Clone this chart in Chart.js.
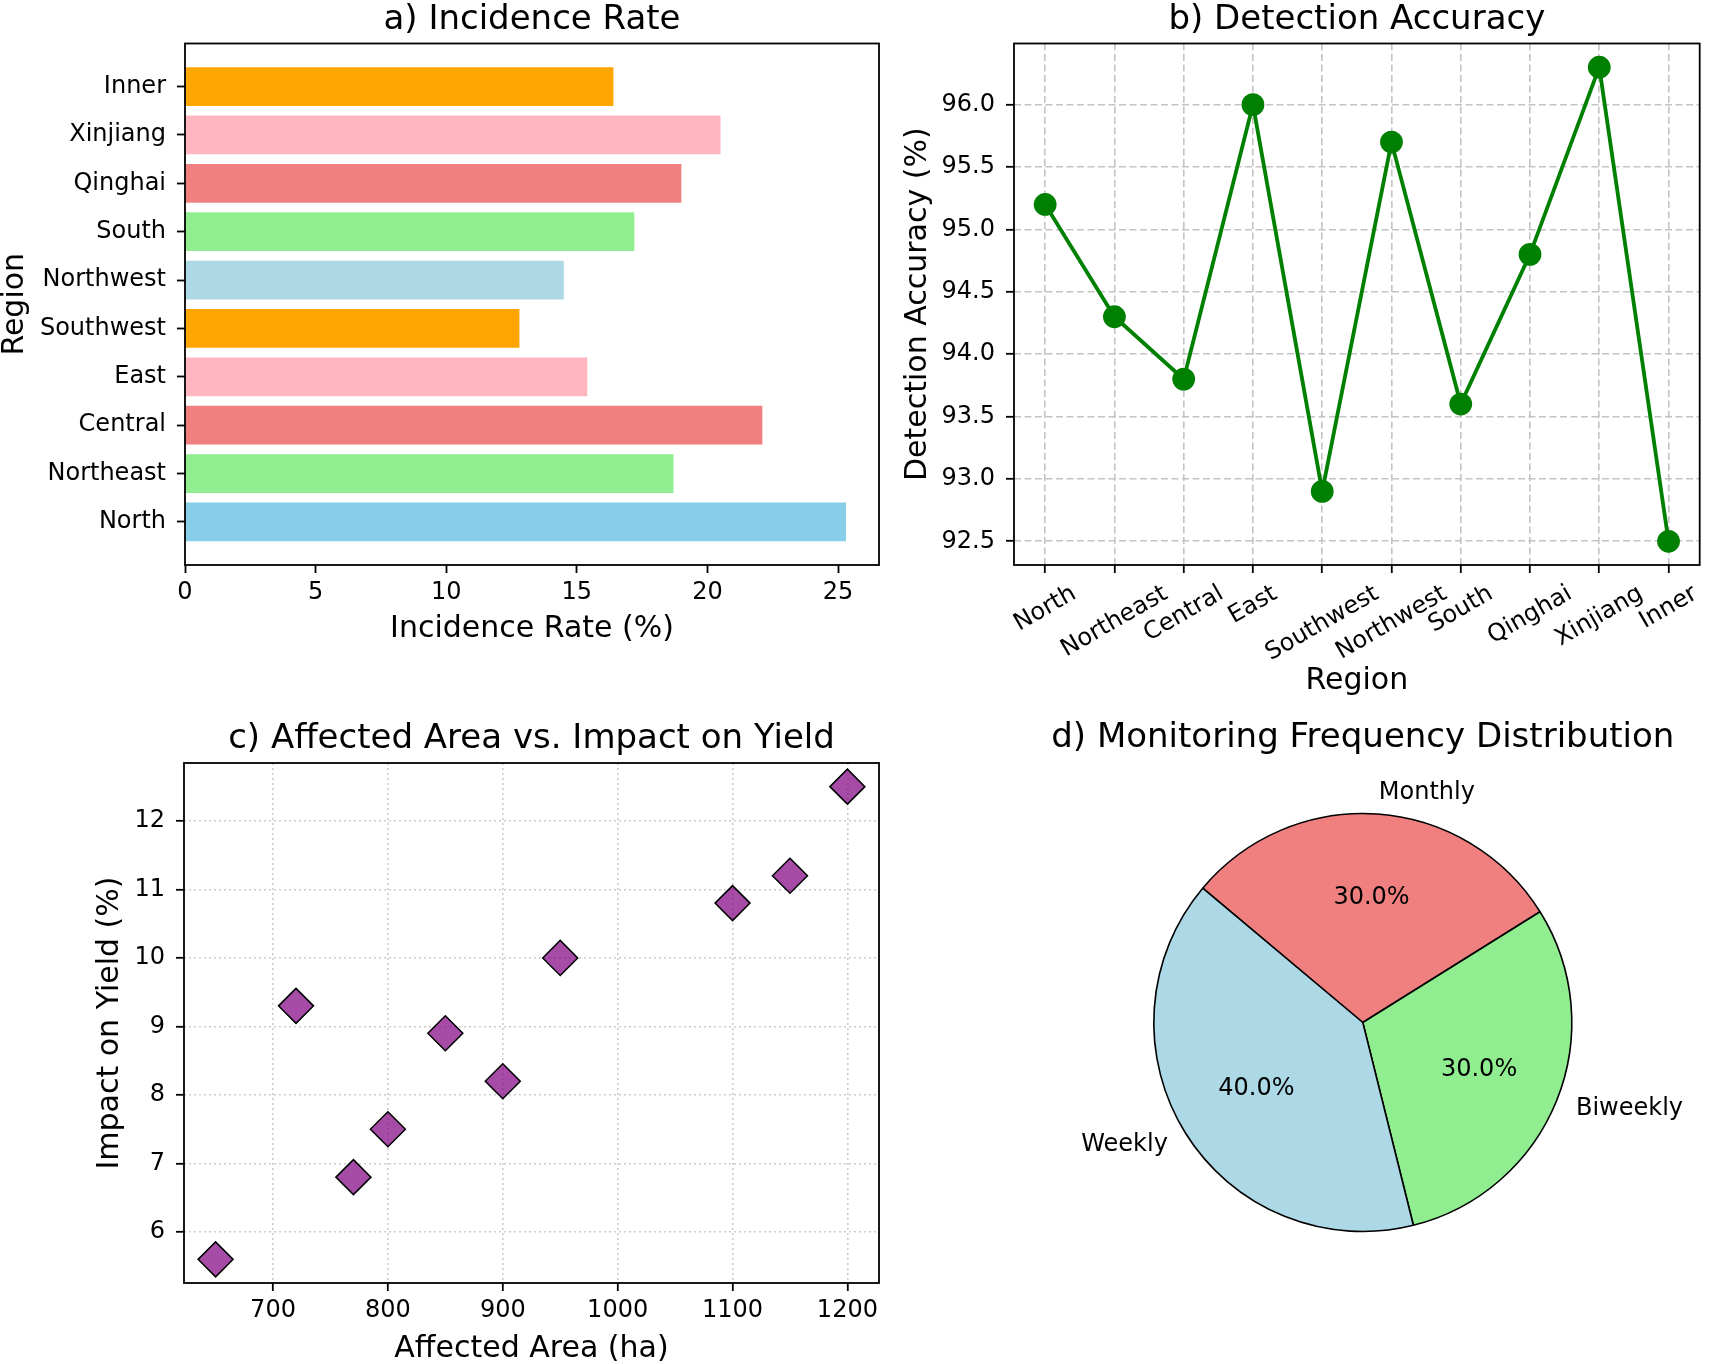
<!DOCTYPE html>
<html>
<head>
<meta charset="utf-8">
<title>Pest monitoring overview</title>
<script src="https://cdn.jsdelivr.net/npm/chart.js@4.4.0/dist/chart.umd.min.js"></script>
<style>
  html, body { margin: 0; padding: 0; background: #fff; }
  body { width: 1713px; height: 1364px; position: relative; overflow: hidden; }
  canvas { position: absolute; }
</style>
</head>
<body>
<canvas id="incidenceChart" width="900" height="660" style="left:0;top:0;width:900px;height:660px"></canvas>
<canvas id="accuracyChart" width="833" height="700" style="left:880px;top:0;width:833px;height:700px"></canvas>
<canvas id="areaChart" width="900" height="674" style="left:0;top:690px;width:900px;height:674px"></canvas>
<canvas id="frequencyChart" width="813" height="674" style="left:900px;top:690px;width:813px;height:674px"></canvas>
<script>
// --- data ---
const regions = ['North', 'Northeast', 'Central', 'East', 'Southwest', 'Northwest', 'South', 'Qinghai', 'Xinjiang', 'Inner'];
const incidenceRates = [25.3, 18.7, 22.1, 15.4, 12.8, 14.5, 17.2, 19.0, 20.5, 16.4];
const barColors = ['skyblue', 'lightgreen', 'lightcoral', 'lightpink', 'orange', 'lightblue', 'lightgreen', 'lightcoral', 'lightpink', 'orange'];
const rateTicks = [0, 5, 10, 15, 20, 25];

const detectionAccuracy = [95.2, 94.3, 93.8, 96.0, 92.9, 95.7, 93.6, 94.8, 96.3, 92.5];
const accuracyTicks = [92.5, 93.0, 93.5, 94.0, 94.5, 95.0, 95.5, 96.0];

const affectedArea = [650, 720, 770, 800, 850, 900, 950, 1100, 1150, 1200];
const yieldImpact = [5.6, 9.3, 6.8, 7.5, 8.9, 8.2, 10.0, 10.8, 11.2, 12.5];
const areaTicks = [700, 800, 900, 1000, 1100, 1200];
const impactTicks = [6, 7, 8, 9, 10, 11, 12];

const frequencyLabels = ['Weekly', 'Biweekly', 'Monthly'];
const frequencyShares = [40, 30, 30];
const frequencyColors = ['lightblue', 'lightgreen', 'lightcoral'];

const FONT = "'DejaVu Sans', sans-serif";
Chart.defaults.font.family = FONT;
Chart.defaults.color = '#000';

// matplotlib-like 5% margins around the data
function withMargin(lo, hi) {
    const m = (hi - lo) * 0.05;
    return [lo - m, hi + m];
}

// fixed tick positions instead of Chart.js' own choice
function fixedTicks(values) {
    return scale => { scale.ticks = values.map(v => ({ value: v })); };
}

// draws the full box around the plot area (all four spines)
const axesFrame = {
    id: 'axesFrame',
    afterDraw(chart) {
        const { ctx, chartArea: a } = chart;
        ctx.save();
        ctx.strokeStyle = '#000';
        ctx.lineWidth = 1.8;
        ctx.strokeRect(a.left, a.top, a.right - a.left, a.bottom - a.top);
        ctx.restore();
    }
};

// rotated region names centred under each tick, like matplotlib rotation=30
const slantedLabels = {
    id: 'slantedLabels',
    afterDraw(chart) {
        const { ctx, chartArea, scales } = chart;
        const angle = 30 * Math.PI / 180;
        ctx.save();
        ctx.font = '24px ' + FONT;
        ctx.fillStyle = '#000';
        ctx.textAlign = 'center';
        ctx.textBaseline = 'middle';
        regions.forEach((name, i) => {
            const x = scales.x.getPixelForValue(i);
            const w = ctx.measureText(name).width;
            const boxH = w * Math.sin(angle) + 24 * 1.164 * Math.cos(angle);
            const y = chartArea.bottom + 15 + boxH / 2;
            ctx.save();
            ctx.translate(x, y);
            ctx.rotate(-angle);
            ctx.fillText(name, 0, 0);
            ctx.restore();
        });
        ctx.restore();
    }
};

// names outside the pie, percentages inside
const pieLabels = {
    id: 'pieLabels',
    afterDatasetsDraw(chart) {
        const { ctx } = chart;
        const values = chart.data.datasets[0].data;
        const total = values.reduce((a, b) => a + b, 0);
        ctx.save();
        ctx.font = '24px ' + FONT;
        ctx.fillStyle = '#000';
        ctx.textBaseline = 'middle';
        chart.getDatasetMeta(0).data.forEach((arc, i) => {
            const p = arc.getProps(['x', 'y', 'startAngle', 'endAngle', 'outerRadius'], true);
            const mid = (p.startAngle + p.endAngle) / 2;
            const c = Math.cos(mid), s = Math.sin(mid);
            ctx.textAlign = c >= 0 ? 'left' : 'right';
            ctx.fillText(chart.data.labels[i], p.x + c * p.outerRadius * 1.1, p.y + s * p.outerRadius * 1.1);
            ctx.textAlign = 'center';
            ctx.fillText((values[i] / total * 100).toFixed(1) + '%', p.x + c * p.outerRadius * 0.6, p.y + s * p.outerRadius * 0.6);
        });
        ctx.restore();
    }
};

const tickFont = { size: 24 };
const labelFont = { size: 30, lineHeight: 1 };
const titleFont = { size: 34, weight: 'normal', lineHeight: 1 };
const tickMarks = { tickLength: 8, tickColor: '#000', tickWidth: 1.8 };

function baseOptions(title, titlePadding, padding) {
    return {
        responsive: false,
        animation: false,
        devicePixelRatio: 1,
        layout: { padding },
        plugins: {
            legend: { display: false },
            tooltip: { enabled: false },
            title: { display: true, text: title, fullSize: false, font: titleFont, color: '#000', padding: titlePadding }
        }
    };
}

// --- a) Incidence Rate ---
const incOpts = baseOptions('a) Incidence Rate', { top: 3, bottom: 6.5 }, { left: 0, right: 21, top: 0, bottom: 0 });
incOpts.indexAxis = 'y';
incOpts.scales = {
    x: {
        type: 'linear', min: 0, max: Math.max(...incidenceRates) * 1.05,
        afterBuildTicks: fixedTicks(rateTicks),
        ticks: { autoSkip: false, font: tickFont, padding: 5, callback: v => String(v) },
        grid: Object.assign({ drawOnChartArea: false }, tickMarks),
        border: { display: false },
        title: { display: true, text: 'Incidence Rate (%)', font: labelFont, padding: { top: 0, bottom: 15.5 } },
        afterFit: s => { s.height = 95; }
    },
    y: {
        type: 'linear', min: -0.4 - 0.49, max: 9.4 + 0.49,
        offset: false,
        afterBuildTicks: fixedTicks(regions.map((r, i) => i)),
        ticks: { autoSkip: false, font: tickFont, padding: 11, callback: v => regions[v] ?? '' },
        grid: Object.assign({ drawOnChartArea: false, offset: false }, tickMarks),
        border: { display: false },
        title: { display: true, text: 'Region', font: labelFont, padding: { top: 0, bottom: 0 } },
        afterFit: s => { s.width = 185; }
    }
};
new Chart(document.getElementById('incidenceChart'), {
    type: 'bar',
    data: {
        datasets: [{
            data: regions.map((r, i) => ({ x: incidenceRates[i], y: i })),
            backgroundColor: barColors,
            categoryPercentage: 1,
            barPercentage: 0.8
        }]
    },
    options: incOpts,
    plugins: [axesFrame]
});

// --- b) Detection Accuracy ---
const [accMin, accMax] = withMargin(Math.min(...detectionAccuracy), Math.max(...detectionAccuracy));
const dashedGrid = { color: '#c4c4c4', lineWidth: 1.6 };
const accOpts = baseOptions('b) Detection Accuracy', { top: 3, bottom: 6.5 }, { left: 0, right: 2, top: 0, bottom: 0 });
accOpts.scales = {
    x: {
        type: 'linear', min: -0.45, max: 9.45,
        afterBuildTicks: fixedTicks(regions.map((r, i) => i)),
        ticks: { autoSkip: false, display: false },
        grid: Object.assign({}, dashedGrid, tickMarks),
        border: { display: false, dash: [7, 3.5] },
        title: { display: true, text: 'Region', font: labelFont, padding: { top: 0, bottom: 3.5 } },
        afterFit: s => { s.height = 135; }
    },
    y: {
        type: 'linear', min: accMin, max: accMax,
        afterBuildTicks: fixedTicks(accuracyTicks),
        ticks: { autoSkip: false, font: tickFont, padding: 11, callback: v => v.toFixed(1) },
        grid: Object.assign({}, dashedGrid, tickMarks),
        border: { display: false, dash: [7, 3.5] },
        title: { display: true, text: 'Detection Accuracy (%)', font: labelFont, padding: { top: 23, bottom: 0 } },
        afterFit: s => { s.width = 134; }
    }
};
new Chart(document.getElementById('accuracyChart'), {
    type: 'line',
    data: {
        datasets: [{
            data: regions.map((r, i) => ({ x: i, y: detectionAccuracy[i] })),
            borderColor: 'green',
            borderWidth: 3.8,
            pointRadius: 9.5,
            pointBackgroundColor: 'green',
            pointBorderColor: 'green',
            tension: 0,
            clip: false
        }]
    },
    options: accOpts,
    plugins: [axesFrame, slantedLabels]
});

// --- c) Affected Area vs. Impact on Yield ---
const [areaMin, areaMax] = withMargin(Math.min(...affectedArea), Math.max(...affectedArea));
const [impMin, impMax] = withMargin(Math.min(...yieldImpact), Math.max(...yieldImpact));
const dottedGrid = { color: '#cccccc', lineWidth: 1.6 };
const areaOpts = baseOptions('c) Affected Area vs. Impact on Yield', { top: 32.5, bottom: 6.5 }, { left: 0, right: 21, top: 0, bottom: 0 });
areaOpts.scales = {
    x: {
        type: 'linear', min: areaMin, max: areaMax,
        afterBuildTicks: fixedTicks(areaTicks),
        ticks: { autoSkip: false, font: tickFont, padding: 5, callback: v => String(v) },
        grid: Object.assign({}, dottedGrid, tickMarks),
        border: { display: false, dash: [2, 3] },
        title: { display: true, text: 'Affected Area (ha)', font: labelFont, padding: { top: 0, bottom: 0 } },
        afterFit: s => { s.height = 81; }
    },
    y: {
        type: 'linear', min: impMin, max: impMax,
        afterBuildTicks: fixedTicks(impactTicks),
        ticks: { autoSkip: false, font: tickFont, padding: 11, callback: v => String(v) },
        grid: Object.assign({}, dottedGrid, tickMarks),
        border: { display: false, dash: [2, 3] },
        title: { display: true, text: 'Impact on Yield (%)', font: labelFont, padding: { top: 95.6, bottom: 0 } },
        afterFit: s => { s.width = 184; }
    }
};
new Chart(document.getElementById('areaChart'), {
    type: 'scatter',
    data: {
        datasets: [{
            data: affectedArea.map((a, i) => ({ x: a, y: yieldImpact[i] })),
            pointStyle: 'rectRot',
            pointRadius: 17.5,
            backgroundColor: 'rgba(128, 0, 128, 0.7)',
            borderColor: '#000',
            borderWidth: 1.5,
            clip: false
        }]
    },
    options: areaOpts,
    plugins: [axesFrame]
});

// --- d) Monitoring Frequency Distribution ---
// matplotlib goes counter-clockwise from 140 deg, Chart.js clockwise: reverse the order
const pieOpts = baseOptions('d) Monitoring Frequency Distribution', { top: 31, bottom: 7 }, { left: 150, right: 813 - 2 * 462.8 + 150, top: 0, bottom: 81 });
pieOpts.rotation = 90 - 140;
pieOpts.radius = 209;
new Chart(document.getElementById('frequencyChart'), {
    type: 'pie',
    data: {
        labels: frequencyLabels.slice().reverse(),
        datasets: [{
            data: frequencyShares.slice().reverse(),
            backgroundColor: frequencyColors.slice().reverse(),
            borderColor: '#000',
            borderWidth: 1.6
        }]
    },
    options: pieOpts,
    plugins: [pieLabels]
});
</script>
</body>
</html>
